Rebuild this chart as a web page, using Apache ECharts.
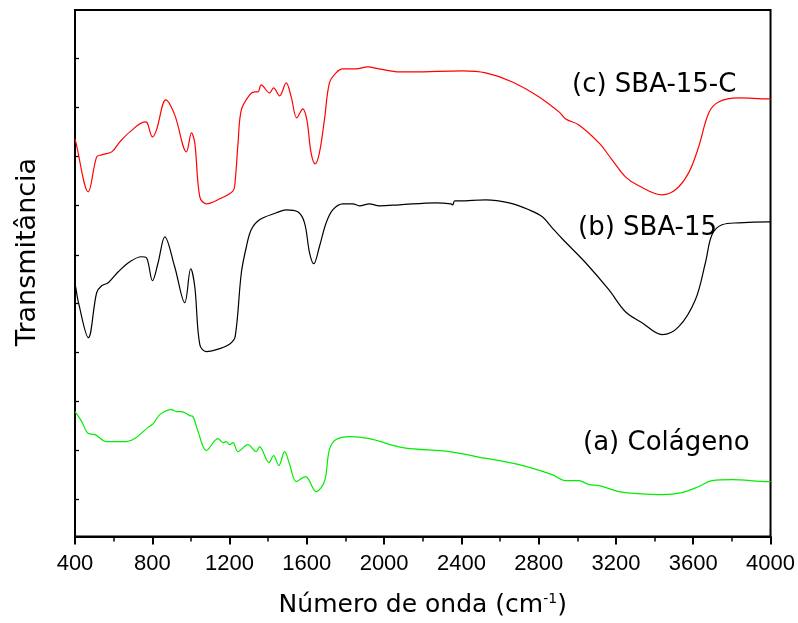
<!DOCTYPE html>
<html>
<head>
<meta charset="utf-8">
<script src="https://cdn.jsdelivr.net/npm/echarts@6/dist/echarts.min.js"></script>
<style>html,body{margin:0;padding:0;background:#fff}#c{width:798px;height:623px}</style>
</head>
<body>
<div id="c"></div>
<script>
// x ticks (wavenumber, cm-1)
const xTicks = [400, 800, 1200, 1600, 2000, 2400, 2800, 3200, 3600, 4000];
// y ticks (arbitrary transmittance units, no labels)
const yTicks = [37, 86, 135, 184, 233, 282, 332, 381, 430, 479];

// (c) SBA-15-C
const wnC = [400,404,469,512,538,590,632,684,762,774,801,822,870,916,977,1003,1020,1046,1080,1149,1218,1229,1244,1261,1304,1330,1347,1364,1407,1428,1459,1493,1519,1548,1579,1600,1622,1643,1665,1691,1717,1751,1786,1855,1915,1975,2079,2147,2406,2526,2664,2802,2905,2940,3008,3112,3180,3249,3318,3439,3508,3576,3628,3680,3731,3835,3990,4000];
const tC  = [398,395,345,380,382,385,395,405,415,414,400,407,437,422,385,404,394,340,333,338,346,356,394,427,442,445,445,452,444,449,441,454,440,419,428,417,384,373,384,417,454,464,468,468,470,468,465,465,466,464,455,440,425,418,412,394,377,360,351,342,347,364,390,424,435,439,438,438];

// (b) SBA-15
const wnB = [400,404,418,469,512,538,572,624,684,744,770,801,830,865,916,968,999,1020,1046,1080,1149,1203,1229,1261,1287,1312,1355,1442,1493,1553,1588,1614,1636,1665,1700,1734,1786,1838,1872,1924,1975,2079,2268,2346,2355,2365,2389,2526,2647,2750,2819,2870,2922,3043,3163,3249,3335,3439,3525,3611,3663,3697,3749,3835,3990,4000];
const tB  = [252,249,234,199,244,251,254,265,275,280,279,256,274,300,270,234,268,250,192,185,188,193,200,264,290,307,317,324,327,325,314,284,273,290,314,327,333,333,331,333,331,332,334,333,332,336,336,337,334,327,320,309,298,274,247,225,214,202,210,237,274,302,312,314,315,315];

// (a) Colágeno
const wnA = [400,404,435,469,504,564,667,710,770,805,839,899,925,951,994,1011,1037,1080,1140,1166,1183,1200,1218,1243,1295,1338,1355,1404,1428,1455,1485,1511,1545,1593,1648,1691,1717,1751,1820,1924,2096,2337,2475,2698,2870,2940,3008,3060,3112,3215,3318,3439,3542,3628,3697,3800,3990,4000];
const tA  = [125,124,115,103,102,95,95,98,108,113,122,127,125,125,121,120,105,86,98,94,95,92,94,85,92,85,90,74,81,71,85,72,55,60,45,55,87,97,100,98,89,85,80,72,62,56,56,52,51,45,43,42,44,50,56,57,55,55];

const labels = ['(c) SBA-15-C', '(b) SBA-15', '(a) Colágeno'];

function pairs(xs, ys) { return xs.map((x, i) => [x, ys[i]]); }

const chart = echarts.init(document.getElementById('c'), null, {renderer: 'canvas'});
const lineBase = {type: 'line', showSymbol: false, smooth: 0.35, animation: false};
chart.setOption({
  backgroundColor: '#fff',
  animation: false,
  grid: {left: 75, right: 26, top: 10, bottom: 86, show: true, borderColor: '#000', borderWidth: 2, backgroundColor: 'transparent'},
  xAxis: {
    type: 'value', min: xTicks[0], max: xTicks[xTicks.length - 1], interval: xTicks[1] - xTicks[0],
    axisLine: {show: true, lineStyle: {color: '#000', width: 2}},
    axisTick: {show: true, length: 8, lineStyle: {color: '#000', width: 2}},
    minorTick: {show: true, splitNumber: 2, length: 5, lineStyle: {color: '#000', width: 1.5}},
    splitLine: {show: false},
    axisLabel: {color: '#000', fontSize: 22, fontFamily: 'Liberation Sans, Arial, sans-serif', margin: 16,
      formatter: v => String(v)},
    name: 'Número de onda (cm{sup|-1})',
    nameLocation: 'middle', nameGap: 56,
    nameTextStyle: {color: '#000', fontSize: 25, fontFamily: 'DejaVu Sans, sans-serif',
      rich: {sup: {fontSize: 14, fontFamily: 'DejaVu Sans, sans-serif', verticalAlign: 'top', padding: [0,0,12,0], color: '#000'}}}
  },
  yAxis: {
    type: 'value', min: 0, max: 527,
    axisLine: {show: true, lineStyle: {color: '#000', width: 2}},
    axisTick: {show: true, inside: true, length: 4, lineStyle: {color: '#000', width: 1.3}, customValues: yTicks},
    axisLabel: {show: false},
    splitLine: {show: false}
  },
  series: [
    Object.assign({}, lineBase, {name: labels[0], data: pairs(wnC, tC), lineStyle: {color: '#ff0000', width: 1.2}, itemStyle: {color: '#ff0000'}}),
    Object.assign({}, lineBase, {name: labels[1], data: pairs(wnB, tB), lineStyle: {color: '#000000', width: 1.2}, itemStyle: {color: '#000000'}}),
    Object.assign({}, lineBase, {name: labels[2], data: pairs(wnA, tA), lineStyle: {color: '#00ee00', width: 1.2}, itemStyle: {color: '#00ee00'}})
  ],
  graphic: [
    {type: 'text', x: 572, y: 85, style: {text: labels[0], fill: '#000', font: '26px "DejaVu Sans", sans-serif', align: 'left', verticalAlign: 'middle'}},
    {type: 'text', x: 578, y: 228, style: {text: labels[1], fill: '#000', font: '26px "DejaVu Sans", sans-serif', align: 'left', verticalAlign: 'middle'}},
    {type: 'text', x: 583, y: 443, style: {text: labels[2], fill: '#000', font: '26px "DejaVu Sans", sans-serif', align: 'left', verticalAlign: 'middle'}},
    {type: 'text', x: 28, y: 252, rotation: Math.PI / 2, style: {text: 'Transmitância', fill: '#000', font: '27px "DejaVu Sans", sans-serif', align: 'center', verticalAlign: 'middle'}}
  ]
});
</script>
</body>
</html>
